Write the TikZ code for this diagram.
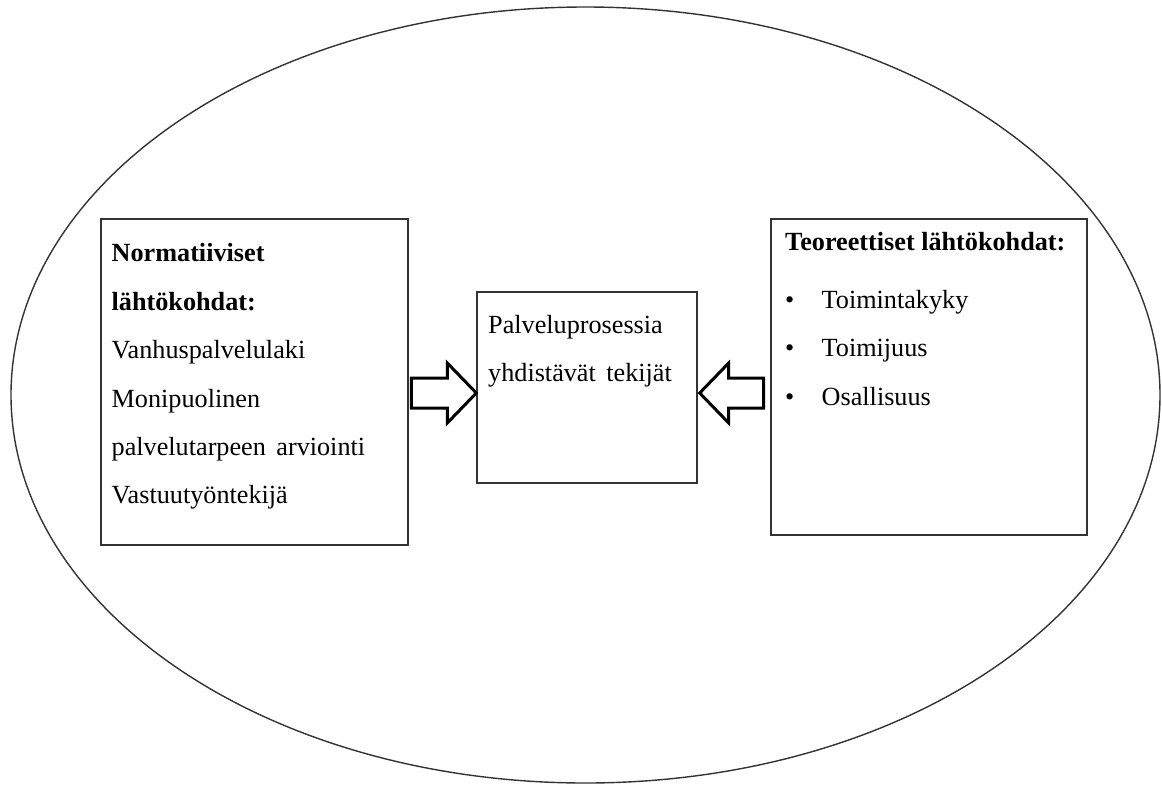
\documentclass[tikz,border=0pt]{standalone}
\usepackage{fontspec}
\setmainfont{Liberation Serif}
\usetikzlibrary{calc}
\definecolor{linegray}{HTML}{333333}
\begin{document}
\begin{tikzpicture}[x=1pt,y=-1pt,
  box/.style={draw=linegray, line width=1.4pt, inner sep=0pt, fill=white},
  txt/.style={anchor=base west, inner sep=0pt, font=\fontsize{26.2}{30}\selectfont},
  btxt/.style={anchor=base west, inner sep=0pt, font=\fontsize{26.2}{30}\selectfont\bfseries},
  blockarrow/.style={draw=black, line width=3pt, line join=miter, fill=white}]
\useasboundingbox (0,0) rectangle (1162,785);
\draw[draw=linegray, line width=1.4pt] (585.5,395) ellipse [x radius=574.5, y radius=388];
% boxes
\node[box, minimum width=307pt, minimum height=326pt] (L) at (254.5,382) {};
\node[box, minimum width=220pt, minimum height=191pt] (M) at (587,387.5) {};
\node[box, minimum width=316pt, minimum height=316pt] (R) at (929,377) {};
% left texts
\node[btxt] (l1) at (111.5,261.5) {Normatiiviset};
\node[btxt] (l2) at (111.5,310) {lähtökohdat:};
\node[txt] (l3) at (111.5,358.5) {Vanhuspalvelulaki};
\node[txt] (l4) at (111.5,407) {Monipuolinen};
\node[txt] (l5) at (111.5,455.5) {palvelutarpeen\hspace{0.4em}arviointi};
\node[txt] (l6) at (111.5,503.5) {Vastuutyöntekijä};
% middle texts
\node[txt] (m1) at (488,333) {Palveluprosessia};
\node[txt] (m2) at (488,381.5) {yhdistävät\hspace{0.4em}tekijät};
% right texts
\node[btxt] (r0) at (785,250) {Teoreettiset lähtökohdat:};
\node[txt] (b1) at (785,308) {•};
\node[txt] (r1) at (821.5,308) {Toimintakyky};
\node[txt] (b2) at (785,356.5) {•};
\node[txt] (r2) at (821.5,356.5) {Toimijuus};
\node[txt] (b3) at (785,405) {•};
\node[txt] (r3) at (821.5,405) {Osallisuus};
% block arrows
\coordinate (la) at ($(M.west)+(0,5.5)$);
\draw[blockarrow] ($(la)+(-65,-15)$) -- ($(la)+(-29,-15)$) -- ($(la)+(-29,-30)$) -- (la)
  -- ($(la)+(-29,30)$) -- ($(la)+(-29,15)$) -- ($(la)+(-65,15)$) -- cycle;
\coordinate (ra) at ($(M.east)+(2,5.5)$);
\draw[blockarrow] ($(ra)+(64,-15)$) -- ($(ra)+(29,-15)$) -- ($(ra)+(29,-30)$) -- (ra)
  -- ($(ra)+(29,30)$) -- ($(ra)+(29,15)$) -- ($(ra)+(64,15)$) -- cycle;
\end{tikzpicture}
\end{document}
